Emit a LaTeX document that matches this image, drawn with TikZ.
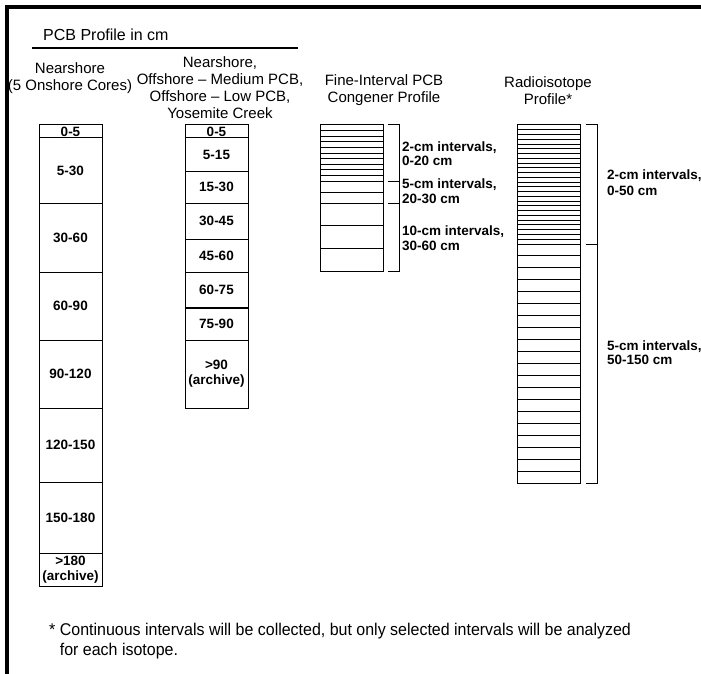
\documentclass[tikz,border=0pt]{standalone}
\usepackage{fontspec}
\setmainfont{Liberation Sans}
\newfontfamily\notefont[FakeStretch=0.94]{Liberation Sans}

\begin{document}
\begin{tikzpicture}[
    x=1pt, y=-1pt,
    core/.style={rectangle, draw=black, line width=1pt, inner sep=0pt, minimum width=63pt, align=center, font=\fontsize{13.5}{15}\selectfont\bfseries},
    band/.style={rectangle, draw=black, line width=1pt, inner sep=0pt, minimum width=63pt},
    header/.style={align=center, inner sep=0pt, font=\fontsize{15}{17}\selectfont},
    rangelabel/.style={anchor=west, align=left, inner sep=0pt, font=\fontsize{13.5}{14.5}\selectfont\bfseries},
    bracket/.style={line width=1pt},
]

\useasboundingbox (0,0) rectangle (701,674);

% frame
\draw [line width=4pt] (701,7) -- (7,7) -- (7,674);

\node (title) [anchor=west, inner sep=0pt, font=\fontsize{16}{18}\selectfont] at (43,35) {PCB Profile in cm};
\draw [line width=2pt] (32,48) -- (298,48);

\node (h1) [header] at (70,78.5) {Nearshore\\(5 Onshore Cores)};
\node (h2) [header] at (220,88) {Nearshore,\\Offshore – Medium PCB,\\Offshore – Low PCB,\\Yosemite Creek};
\node (h3) [header] at (384,90.5) {Fine-Interval PCB\\Congener Profile};
\node (h4) [header] at (548,90.5) {Radioisotope\\Profile*};

% nearshore cores
\foreach \ya/\yb/\txt [count=\i] in {125/138/0-5, 138/203/5-30, 203/272/30-60, 272/340/60-90, 340/408/90-120, 408/482/120-150, 482/553/150-180, 553/586/{>180\\(archive)}}
    \node (n\i) [core, minimum height={(\yb-\ya)*1pt}] at (70.5,{(\ya+\yb)/2}) {\txt};

% offshore cores
\foreach \ya/\yb/\txt [count=\i] in {125/138/0-5, 138/171/5-15, 171/203/15-30, 203/239/30-45, 239/272/45-60, 272/307/60-75, 307/340/75-90, 340/408/{>90\\(archive)}}
    \node (m\i) [core, minimum height={(\yb-\ya)*1pt}] at (216.5,{(\ya+\yb)/2}) {\txt};
\draw [line width=2pt] (m6.south west) -- (m6.south east);

% fine-interval profile
\foreach \i in {1,...,10}
    \node (f\i) [band, minimum height=5.6pt] at (351.5,{125+5.6*(\i-0.5)}) {};
\foreach \i in {11,12}
    \node (f\i) [band, minimum height=11pt] at (351.5,{181+11*(\i-10.5)}) {};
\foreach \i in {13,14,15}
    \node (f\i) [band, minimum height=22.67pt] at (351.5,{203+22.67*(\i-12.5)}) {};

\draw [bracket] ([xshift=4pt]f1.north east) -- ++(12,0) |- ([xshift=4pt]f15.south east);
\draw [bracket] ([xshift=4pt]f10.south east) -- ++(12,0);
\draw [bracket] ([xshift=4pt]f12.south east) -- ++(12,0);

\node (l1) [rangelabel] at (402,153.5) {2-cm intervals,\\0-20 cm};
\node (l2) [rangelabel] at (402,191) {5-cm intervals,\\20-30 cm};
\node (l3) [rangelabel] at (402,238) {10-cm intervals,\\30-60 cm};

% radioisotope profile
\foreach \i in {1,...,25}
    \node (r\i) [band, minimum height=4.76pt] at (548.5,{125+4.76*(\i-0.5)}) {};
\foreach \i in {26,...,45}
    \node (r\i) [band, minimum height=11.95pt] at (548.5,{244+11.95*(\i-25.5)}) {};

\draw [bracket] ([xshift=5pt]r1.north east) -- ++(12,0) |- ([xshift=5pt]r45.south east);
\draw [bracket] ([xshift=5pt]r25.south east) -- ++(12,0);

\node (l4) [rangelabel] at (607,183) {2-cm intervals,\\[1.5pt]0-50 cm};
\node (l5) [rangelabel] at (607,352.5) {5-cm intervals,\\50-150 cm};

% footnote
\node (note) [anchor=north west, align=left, inner sep=0pt, font=\notefont\fontsize{17}{19.5}\selectfont] at (49,623) {* Continuous intervals will be collected, but only selected intervals will be analyzed\\\phantom{* }for each isotope.};

\end{tikzpicture}
\end{document}
